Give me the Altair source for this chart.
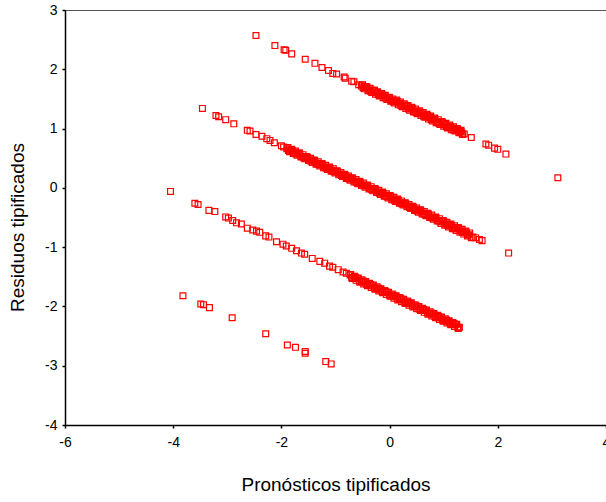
import altair as alt
import pandas as pd

# Upper band
x_up = [-2.47, -2.12, -1.95, -1.92, -1.81, -1.56, -1.38, -1.25, -1.13, -1.05, -0.98, -0.84, -0.82, -0.70, -0.66, -0.57,
        -0.52, -0.45, -0.38, -0.31, -0.24, -0.17, -0.10, -0.03, 0.04, 0.11, 0.18, 0.25, 0.32, 0.39, 0.46, 0.53, 0.60,
        0.67, 0.74, 0.81, 0.88, 0.95, 1.02, 1.09, 1.16, 1.23, 1.30, 1.34, 1.38, 1.51, 1.78, 1.83, 1.94, 2.00, 2.15, 3.11,
        -0.49, -0.42, -0.35, -0.28, -0.21, -0.14, -0.07, 0.00, 0.07, 0.14, 0.21, 0.28, 0.35, 0.42, 0.49, 0.56,
        0.63, 0.70, 0.77, 0.84, 0.91, 0.98, 1.05, 1.12, 1.19, 1.26, 1.32]
y_up = [2.57, 2.40, 2.33, 2.32, 2.26, 2.17, 2.10, 2.03, 1.98, 1.93, 1.92, 1.87, 1.85, 1.80, 1.79, 1.74,
        1.72, 1.71, 1.65, 1.64, 1.61, 1.56, 1.55, 1.52, 1.47, 1.46, 1.43, 1.38, 1.37, 1.34, 1.29, 1.28, 1.25,
        1.20, 1.19, 1.16, 1.11, 1.10, 1.07, 1.02, 1.01, 0.98, 0.94, 0.92, 0.91, 0.85, 0.74, 0.72, 0.67, 0.65, 0.57, 0.17,
        1.69, 1.70, 1.63, 1.64, 1.57, 1.58, 1.51, 1.52, 1.45, 1.46, 1.39, 1.40, 1.33, 1.34, 1.27, 1.28,
        1.21, 1.22, 1.15, 1.16, 1.09, 1.10, 1.03, 1.04, 0.97, 0.98, 0.95]
# Upper band, dense part (upper and lower edge of the band)
x_up_a = [-0.50, -0.43, -0.36, -0.29, -0.22, -0.15, -0.08, -0.01, 0.06, 0.13, 0.20, 0.27, 0.34, 0.41,
          0.48, 0.55, 0.62, 0.69, 0.76, 0.83, 0.90, 0.97, 1.04, 1.11, 1.18, 1.25, 1.32]
y_up_a = [1.74, 1.71, 1.68, 1.65, 1.62, 1.59, 1.56, 1.53, 1.50, 1.48, 1.45, 1.42, 1.39, 1.36,
          1.33, 1.30, 1.27, 1.24, 1.21, 1.18, 1.15, 1.12, 1.09, 1.06, 1.03, 1.00, 0.97]
x_up_b = [-0.47, -0.40, -0.33, -0.26, -0.19, -0.12, -0.05, 0.02, 0.09, 0.16, 0.23, 0.30, 0.37, 0.44,
          0.51, 0.58, 0.65, 0.72, 0.79, 0.86, 0.93, 1.00, 1.07, 1.14, 1.21, 1.28, 1.35]
y_up_b = [1.67, 1.64, 1.61, 1.58, 1.55, 1.52, 1.49, 1.46, 1.43, 1.40, 1.37, 1.34, 1.31, 1.28,
          1.25, 1.22, 1.19, 1.16, 1.13, 1.10, 1.07, 1.04, 1.01, 0.98, 0.96, 0.93, 0.90]

# Middle band
x_mid = [-3.46, -3.21, -3.16, -3.03, -2.88, -2.63, -2.58, -2.47, -2.36, -2.27, -2.21, -2.13, -2.00, -1.96,
         -1.90, -1.83, -1.76, -1.69, -1.62, -1.55, -1.48, -1.41, -1.34, -1.27, -1.20, -1.13, -1.06, -0.99, -0.92,
         -0.85, -0.78, -0.71, -0.64, -0.57, -0.50, -0.43, -0.36, -0.29, -0.22, -0.15, -0.08, -0.01, 0.06, 0.13,
         0.20, 0.27, 0.34, 0.41, 0.48, 0.55, 0.62, 0.69, 0.76, 0.83, 0.90, 0.97, 1.04, 1.11, 1.18, 1.25, 1.32,
         1.39, 1.46, 1.54, 1.59, 1.66, 1.71, 2.20,
         -1.87, -1.80, -1.73, -1.66, -1.59, -1.52, -1.45, -1.38, -1.31, -1.24, -1.17, -1.10, -1.03, -0.96,
         -0.89, -0.82, -0.75, -0.68, -0.61, -0.54, -0.47, -0.40, -0.33, -0.26, -0.19, -0.12, -0.05, 0.02,
         0.09, 0.16, 0.23, 0.30, 0.37, 0.44, 0.51, 0.58, 0.65, 0.72, 0.79, 0.86, 0.93, 1.00, 1.07, 1.14,
         1.21, 1.28, 1.35, 1.42]
y_mid = [1.34, 1.22, 1.20, 1.15, 1.08, 0.97, 0.96, 0.90, 0.87, 0.83, 0.80, 0.76, 0.71, 0.69,
         0.66, 0.64, 0.59, 0.58, 0.53, 0.52, 0.47, 0.46, 0.41, 0.40, 0.35, 0.34, 0.29, 0.28, 0.23,
         0.22, 0.17, 0.16, 0.11, 0.10, 0.05, 0.04, -0.01, -0.02, -0.07, -0.08, -0.13, -0.14, -0.19, -0.20,
         -0.25, -0.26, -0.31, -0.32, -0.37, -0.38, -0.43, -0.44, -0.49, -0.50, -0.55, -0.56, -0.61, -0.62, -0.67, -0.68, -0.73,
         -0.74, -0.79, -0.83, -0.84, -0.87, -0.89, -1.10,
         0.63, 0.63, 0.57, 0.57, 0.51, 0.51, 0.45, 0.45, 0.39, 0.39, 0.33, 0.33, 0.27, 0.27,
         0.21, 0.21, 0.15, 0.15, 0.09, 0.09, 0.03, 0.03, -0.03, -0.03, -0.09, -0.09, -0.15, -0.15,
         -0.21, -0.21, -0.27, -0.27, -0.33, -0.33, -0.39, -0.39, -0.45, -0.45, -0.51, -0.51, -0.57, -0.57, -0.63, -0.63,
         -0.69, -0.69, -0.75, -0.76]
x_mid_a = [-1.88, -1.81, -1.74, -1.67, -1.60, -1.53, -1.46, -1.39, -1.32, -1.25, -1.18, -1.11, -1.04, -0.97,
           -0.90, -0.83, -0.76, -0.69, -0.62, -0.55, -0.48, -0.41, -0.34, -0.27, -0.20, -0.13, -0.06, 0.01,
           0.08, 0.15, 0.22, 0.29, 0.36, 0.43, 0.50, 0.57, 0.64, 0.71, 0.78, 0.85, 0.92, 0.99, 1.06, 1.13,
           1.20, 1.27, 1.34, 1.41, 1.48]
y_mid_a = [0.68, 0.65, 0.62, 0.59, 0.56, 0.53, 0.50, 0.47, 0.44, 0.41, 0.38, 0.35, 0.32, 0.29,
           0.26, 0.23, 0.20, 0.17, 0.14, 0.11, 0.08, 0.05, 0.02, -0.01, -0.04, -0.07, -0.10, -0.13,
           -0.16, -0.19, -0.22, -0.25, -0.28, -0.31, -0.34, -0.37, -0.40, -0.43, -0.46, -0.49, -0.52, -0.55, -0.58, -0.61,
           -0.64, -0.67, -0.70, -0.73, -0.76]
x_mid_b = [-1.85, -1.78, -1.71, -1.64, -1.57, -1.50, -1.43, -1.36, -1.29, -1.22, -1.15, -1.08, -1.01, -0.94,
           -0.87, -0.80, -0.73, -0.66, -0.59, -0.52, -0.45, -0.38, -0.31, -0.24, -0.17, -0.10, -0.03, 0.04,
           0.11, 0.18, 0.25, 0.32, 0.39, 0.46, 0.53, 0.60, 0.67, 0.74, 0.81, 0.88, 0.95, 1.02, 1.09, 1.16,
           1.23, 1.30, 1.37, 1.44, 1.51]
y_mid_b = [0.61, 0.58, 0.55, 0.52, 0.49, 0.46, 0.43, 0.40, 0.37, 0.34, 0.31, 0.28, 0.25, 0.22,
           0.19, 0.16, 0.13, 0.10, 0.07, 0.04, 0.01, -0.02, -0.05, -0.08, -0.11, -0.14, -0.17, -0.20,
           -0.23, -0.26, -0.29, -0.32, -0.35, -0.38, -0.41, -0.44, -0.47, -0.50, -0.53, -0.56, -0.60, -0.63, -0.66, -0.69,
           -0.72, -0.75, -0.78, -0.81, -0.84]

# Lower band
x_low = [-4.05, -3.60, -3.54, -3.34, -3.23, -3.03, -2.98, -2.90, -2.83, -2.74, -2.63, -2.53, -2.46, -2.40, -2.29,
         -2.23, -2.09, -1.97, -1.91, -1.81, -1.72, -1.63, -1.57, -1.43, -1.29, -1.20, -1.11, -1.05, -0.95, -0.86,
         -0.80, -0.73, -0.66, -0.59, -0.52, -0.45, -0.38, -0.31, -0.24, -0.17, -0.10, -0.03, 0.04, 0.11, 0.18,
         0.25, 0.32, 0.39, 0.46, 0.53, 0.60, 0.67, 0.74, 0.81, 0.88, 0.95, 1.02, 1.09, 1.16, 1.22, 1.29,
         -0.70, -0.63, -0.56, -0.49, -0.42, -0.35, -0.28, -0.21, -0.14, -0.07, 0.00, 0.07, 0.14, 0.21, 0.28,
         0.35, 0.42, 0.49, 0.56, 0.63, 0.70, 0.77, 0.84, 0.91, 0.98, 1.05, 1.12, 1.19, 1.26]
y_low = [-0.06, -0.26, -0.28, -0.38, -0.40, -0.49, -0.51, -0.55, -0.59, -0.61, -0.68, -0.71, -0.73, -0.75, -0.81,
         -0.83, -0.91, -0.95, -0.98, -1.02, -1.06, -1.10, -1.12, -1.19, -1.24, -1.27, -1.32, -1.34, -1.38, -1.42,
         -1.44, -1.47, -1.52, -1.53, -1.58, -1.59, -1.64, -1.65, -1.70, -1.71, -1.76, -1.77, -1.82, -1.83, -1.88,
         -1.89, -1.94, -1.95, -2.00, -2.01, -2.06, -2.07, -2.12, -2.13, -2.18, -2.19, -2.24, -2.25, -2.30, -2.31, -2.35,
         -1.51, -1.51, -1.57, -1.57, -1.63, -1.63, -1.69, -1.69, -1.75, -1.75, -1.81, -1.81, -1.87, -1.87, -1.93,
         -1.93, -1.99, -1.99, -2.05, -2.05, -2.11, -2.11, -2.17, -2.17, -2.23, -2.23, -2.29, -2.29, -2.35]
x_low_a = [-0.72, -0.65, -0.58, -0.51, -0.44, -0.37, -0.30, -0.23, -0.16, -0.09, -0.02, 0.05, 0.12, 0.19, 0.26,
           0.33, 0.40, 0.47, 0.54, 0.61, 0.68, 0.75, 0.82, 0.89, 0.96, 1.03, 1.10, 1.17, 1.24]
y_low_a = [-1.46, -1.49, -1.52, -1.55, -1.58, -1.61, -1.64, -1.67, -1.70, -1.73, -1.76, -1.79, -1.82, -1.85, -1.88,
           -1.91, -1.94, -1.97, -2.00, -2.03, -2.06, -2.09, -2.12, -2.15, -2.18, -2.21, -2.24, -2.27, -2.30]
x_low_b = [-0.69, -0.62, -0.55, -0.48, -0.41, -0.34, -0.27, -0.20, -0.13, -0.06, 0.01, 0.08, 0.15, 0.22, 0.29,
           0.36, 0.43, 0.50, 0.57, 0.64, 0.71, 0.78, 0.85, 0.92, 0.99, 1.06, 1.13, 1.20, 1.27]
y_low_b = [-1.53, -1.56, -1.59, -1.62, -1.65, -1.68, -1.71, -1.74, -1.77, -1.80, -1.83, -1.86, -1.89, -1.92, -1.95,
           -1.98, -2.01, -2.04, -2.07, -2.10, -2.13, -2.16, -2.19, -2.22, -2.25, -2.28, -2.31, -2.34, -2.37]

# Bottom band
x_bot = [-3.82, -3.49, -3.44, -3.33, -2.91, -2.29, -1.89, -1.74, -1.56, -1.56, -1.18, -1.08]
y_bot = [-1.82, -1.96, -1.97, -2.02, -2.19, -2.46, -2.65, -2.69, -2.76, -2.79, -2.93, -2.97]

x_ticks = [-6, -4, -2, 0, 2, 4]
y_ticks = [-4, -3, -2, -1, 0, 1, 2, 3]

df = pd.DataFrame({
    "x": x_up + x_up_a + x_up_b + x_mid + x_mid_a + x_mid_b + x_low + x_low_a + x_low_b + x_bot,
    "y": y_up + y_up_a + y_up_b + y_mid + y_mid_a + y_mid_b + y_low + y_low_a + y_low_b + y_bot,
})

FONT = "Liberation Sans"

chart = alt.Chart(df).mark_point(
    shape="square", filled=False, color="#ff0000", size=34, strokeWidth=1.2, opacity=1
).encode(
    x=alt.X("x:Q", scale=alt.Scale(domain=[-6, 4], nice=False, zero=False),
            axis=alt.Axis(values=x_ticks, title="Pronósticos tipificados", grid=False,
                          tickSize=3, labelPadding=7, titlePadding=26,
                          labelExpr="datum.value + ''")),
    y=alt.Y("y:Q", scale=alt.Scale(domain=[-4, 3], nice=False, zero=False),
            axis=alt.Axis(values=y_ticks, title="Residuos tipificados", grid=False,
                          tickSize=3, labelPadding=5, titlePadding=17, titleY=217,
                          labelExpr="datum.value + ''")),
).properties(
    width=541, height=415,
    autosize=alt.AutoSizeParams(type="none"),
    padding={"left": 65, "top": 10, "right": 0, "bottom": 72},
).configure_view(
    stroke="#555555", strokeWidth=1
).configure_axis(
    domainColor="black", domainWidth=1.5, tickColor="black", tickWidth=1.5,
    labelFont=FONT, labelFontSize=14, labelColor="black",
    titleFont=FONT, titleFontSize=19, titleFontWeight="normal", titleColor="black",
    labelFlush=False, labelOverlap=False,
)

chart.save("out.html", embed_options={"renderer": "svg", "actions": False})
